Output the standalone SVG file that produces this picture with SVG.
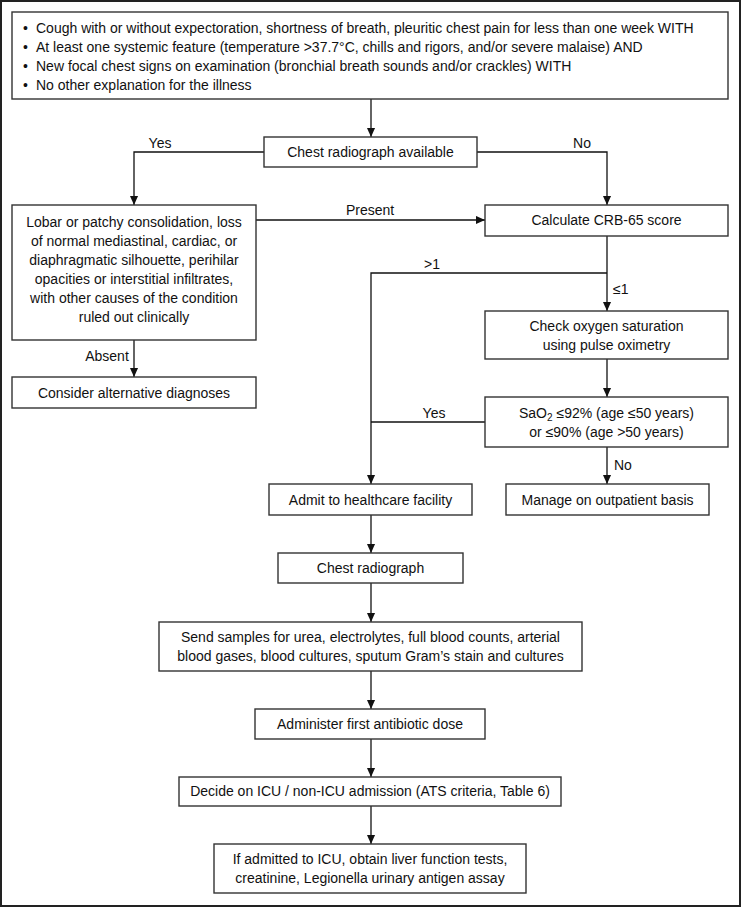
<svg xmlns="http://www.w3.org/2000/svg" width="741" height="907" viewBox="0 0 741 907">
<style>
.box{fill:#fff;stroke:#333;stroke-width:1.4}
.t{font-family:"Liberation Sans",Arial,sans-serif;font-size:14px;fill:#111;text-anchor:middle}
.tl{font-family:"Liberation Sans",Arial,sans-serif;font-size:14px;fill:#111}
.c{fill:none;stroke:#111;stroke-width:1.3}
</style>
<defs>
<marker id="ah" viewBox="0 0 10 10" refX="10" refY="5" markerWidth="9" markerHeight="9" markerUnits="userSpaceOnUse" orient="auto">
<path d="M0,0.5 L10,5 L0,9.5 z" fill="#111"/>
</marker>
</defs>
<rect x="1" y="1" width="739" height="905" fill="#fff" stroke="#222" stroke-width="2"/>

<g id="connectors">
<path class="c" d="M371,99 V137" marker-end="url(#ah)"/>
<path class="c" d="M264,152 H134 V205" marker-end="url(#ah)"/>
<path class="c" d="M477,152 H607 V205" marker-end="url(#ah)"/>
<path class="c" d="M256,220 H485" marker-end="url(#ah)"/>
<path class="c" d="M134,340 V377" marker-end="url(#ah)"/>
<path class="c" d="M607,236 V311" marker-end="url(#ah)"/>
<path class="c" d="M607,273 H371 V484" marker-end="url(#ah)"/>
<path class="c" d="M607,359 V397" marker-end="url(#ah)"/>
<path class="c" d="M485,422 H371"/>
<path class="c" d="M607,447 V484" marker-end="url(#ah)"/>
<path class="c" d="M371,515 V553" marker-end="url(#ah)"/>
<path class="c" d="M371,583 V622" marker-end="url(#ah)"/>
<path class="c" d="M371,671 V709" marker-end="url(#ah)"/>
<path class="c" d="M371,739 V777" marker-end="url(#ah)"/>
<path class="c" d="M371,806 V844" marker-end="url(#ah)"/>
<text class="t" x="160" y="148">Yes</text>
<text class="t" x="582" y="148">No</text>
<text class="t" x="370" y="215">Present</text>
<text class="t" x="432" y="269">&gt;1</text>
<text class="tl" x="613" y="294">≤1</text>
<text class="t" x="107" y="361">Absent</text>
<text class="t" x="434" y="418">Yes</text>
<text class="tl" x="614" y="470">No</text>
</g>

<g id="criteria">
<rect class="box" x="12" y="12" width="716" height="87"/>
<text class="tl" x="23" y="33">•</text><text class="tl" x="36" y="33">Cough with or without expectoration, shortness of breath, pleuritic chest pain for less than one week WITH</text>
<text class="tl" x="23" y="52">•</text><text class="tl" x="36" y="52">At least one systemic feature (temperature &gt;37.7°C, chills and rigors, and/or severe malaise) AND</text>
<text class="tl" x="23" y="71">•</text><text class="tl" x="36" y="71">New focal chest signs on examination (bronchial breath sounds and/or crackles) WITH</text>
<text class="tl" x="23" y="90">•</text><text class="tl" x="36" y="90">No other explanation for the illness</text>
</g>

<g id="cxr-available">
<rect class="box" x="264" y="137" width="213" height="30"/>
<text class="t" x="370.5" y="157">Chest radiograph available</text>
</g>

<g id="findings">
<rect class="box" x="12" y="205" width="244" height="135"/>
<text class="t" x="134" y="227">Lobar or patchy consolidation, loss</text>
<text class="t" x="134" y="246">of normal mediastinal, cardiac, or</text>
<text class="t" x="134" y="265">diaphragmatic silhouette, perihilar</text>
<text class="t" x="134" y="284">opacities or interstitial infiltrates,</text>
<text class="t" x="134" y="303">with other causes of the condition</text>
<text class="t" x="134" y="322">ruled out clinically</text>
</g>

<g id="alternative">
<rect class="box" x="12" y="377" width="244" height="31"/>
<text class="t" x="134" y="398">Consider alternative diagnoses</text>
</g>

<g id="crb65">
<rect class="box" x="485" y="205" width="243" height="31"/>
<text class="t" x="606.5" y="225">Calculate CRB-65 score</text>
</g>

<g id="oximetry">
<rect class="box" x="485" y="311" width="243" height="48"/>
<text class="t" x="606.5" y="331">Check oxygen saturation</text>
<text class="t" x="606.5" y="350">using pulse oximetry</text>
</g>

<g id="sao2">
<rect class="box" x="485" y="397" width="243" height="50"/>
<text class="t" x="606.5" y="418">SaO<tspan font-size="10" dy="3">2</tspan><tspan dy="-3"> ≤92% (age ≤50 years)</tspan></text>
<text class="t" x="606.5" y="437">or ≤90% (age &gt;50 years)</text>
</g>

<g id="admit">
<rect class="box" x="269" y="484" width="203" height="31"/>
<text class="t" x="370.5" y="505">Admit to healthcare facility</text>
</g>

<g id="outpatient">
<rect class="box" x="506" y="484" width="203" height="31"/>
<text class="t" x="607.5" y="505">Manage on outpatient basis</text>
</g>

<g id="cxr">
<rect class="box" x="278" y="553" width="185" height="30"/>
<text class="t" x="370.5" y="573">Chest radiograph</text>
</g>

<g id="samples">
<rect class="box" x="159" y="622" width="423" height="49"/>
<text class="t" x="370.5" y="642">Send samples for urea, electrolytes, full blood counts, arterial</text>
<text class="t" x="370.5" y="661">blood gases, blood cultures, sputum Gram’s stain and cultures</text>
</g>

<g id="antibiotic">
<rect class="box" x="255" y="709" width="230" height="30"/>
<text class="t" x="370" y="729">Administer first antibiotic dose</text>
</g>

<g id="icu-decision">
<rect class="box" x="179" y="777" width="382" height="29"/>
<text class="t" x="370" y="796">Decide on ICU / non-ICU admission (ATS criteria, Table 6)</text>
</g>

<g id="icu-tests">
<rect class="box" x="214" y="844" width="312" height="49"/>
<text class="t" x="370" y="864">If admitted to ICU, obtain liver function tests,</text>
<text class="t" x="370" y="883">creatinine, Legionella urinary antigen assay</text>
</g>
</svg>
